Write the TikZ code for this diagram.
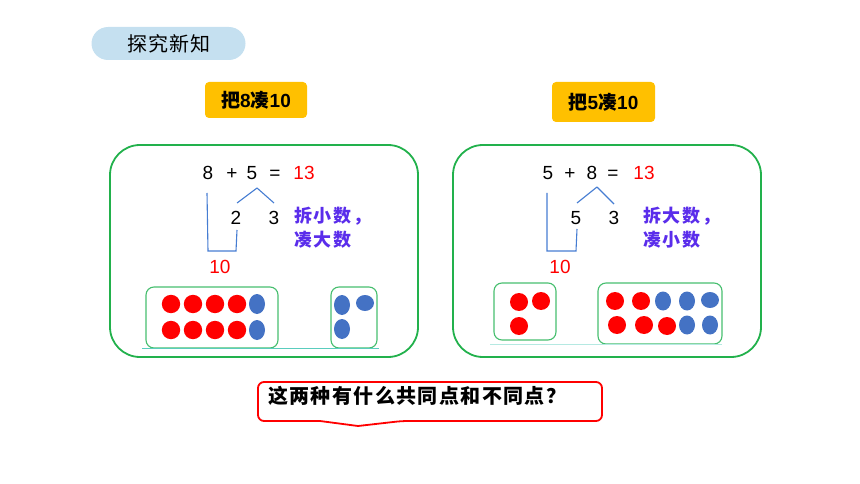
\documentclass[tikz,border=0pt]{standalone}
\usepackage{fontspec}
\setmainfont{Liberation Sans}
\newfontfamily\cjk{Noto Sans CJK SC}

\definecolor{pillblue}{RGB}{197,224,240}
\definecolor{tagorange}{RGB}{255,192,0}
\definecolor{panelgreen}{RGB}{34,177,76}
\definecolor{boxgreen}{RGB}{70,190,110}
\definecolor{dotblue}{RGB}{68,114,196}
\definecolor{linkblue}{RGB}{70,125,210}
\definecolor{hintpurple}{RGB}{90,45,235}
\definecolor{baseteal}{RGB}{90,205,190}

\begin{document}
\begin{tikzpicture}[x=1pt,y=-1pt,
  num/.style={font=\fontsize{19}{19}\selectfont, inner sep=0pt, anchor=base},
  rednum/.style={num, text=red},
  hint/.style={font={\cjk\bfseries\fontsize{18}{18}\selectfont\addfontfeature{LetterSpace=10}},
    text=hintpurple, inner sep=0pt, anchor=west},
  tag/.style={fill=tagorange, rounded corners=4pt, inner sep=0pt,
    font=\bfseries\fontsize{19}{19}\selectfont},
  panel/.style={draw=panelgreen, line width=1.8pt, rounded corners=30pt, inner sep=0pt},
  dotbox/.style={draw=boxgreen, line width=1.1pt, rounded corners=8pt, inner sep=0pt},
  link/.style={draw=linkblue, line width=1.1pt},
  reddot/.style={fill=red},
  bluedot/.style={fill=dotblue}]

  \useasboundingbox (0,0) rectangle (860,484);

  % title and tags
  \draw (168.5,43.5) node[fill=pillblue, rounded corners=16.5pt, minimum width=154pt,
    minimum height=33pt, font={\cjk\fontsize{20}{20}\selectfont\addfontfeature{LetterSpace=5}}]
    (title) {探究新知};
  \draw (256,100) node[tag, minimum width=102pt, minimum height=36pt] (ltag)
    {{\cjk 把}8{\cjk 凑}10};
  \draw (603.5,102) node[tag, minimum width=103pt, minimum height=40pt] (rtag)
    {{\cjk 把}5{\cjk 凑}10};

  % panels
  \draw (264,251) node[panel, minimum width=308pt, minimum height=212pt] (lpanel) {};
  \draw (607,251) node[panel, minimum width=308pt, minimum height=212pt] (rpanel) {};

  % left sum
  \draw (208,180) node[num] (l8) {8};
  \draw (232,180) node[num] (lplus) {+};
  \draw (252,180) node[num] (l5) {5};
  \draw (275,180) node[num] (leq) {=};
  \draw (304,180) node[rednum] (l13) {13};
  \draw (236,224) node[num] (l2) {2};
  \draw (274,224) node[num] (l3) {3};
  \draw (220,273.5) node[rednum] (l10) {10};
  \draw (294,216) node[hint] (lhinta) {拆小数，};
  \draw (294,240) node[hint] (lhintb) {凑大数};

  \coordinate (lapex) at (257,188);
  \coordinate (lsplit2) at (237,203);
  \coordinate (lsplit3) at (274,203);
  \coordinate (lbrtop) at (207,193);
  \coordinate (lbrleft) at (208,251);
  \coordinate (lbrright) at (236,251);
  \coordinate (lbrend) at (237,230);
  \draw[link] (lapex) -- (lsplit2);
  \draw[link] (lapex) -- (lsplit3);
  \draw[link] (lbrtop) -- (lbrleft) -- (lbrright) -- (lbrend);

  % right sum
  \draw (548,180) node[num] (r5) {5};
  \draw (570,180) node[num] (rplus) {+};
  \draw (592,180) node[num] (r8) {8};
  \draw (613,180) node[num] (req) {=};
  \draw (644,180) node[rednum] (r13) {13};
  \draw (576,224) node[num] (r5b) {5};
  \draw (614,224) node[num] (r3) {3};
  \draw (560,273.5) node[rednum] (r10) {10};
  \draw (643,216) node[hint] (rhinta) {拆大数，};
  \draw (643,240) node[hint] (rhintb) {凑小数};

  \coordinate (rapex) at (597,187);
  \coordinate (rsplit5) at (577,203);
  \coordinate (rsplit3) at (614,204);
  \coordinate (rbrtop) at (547,193);
  \coordinate (rbrleft) at (547,251);
  \coordinate (rbrright) at (576,251);
  \coordinate (rbrend) at (577,229);
  \draw[link] (rapex) -- (rsplit5);
  \draw[link] (rapex) -- (rsplit3);
  \draw[link] (rbrtop) -- (rbrleft) -- (rbrright) -- (rbrend);

  % counters, left
  \draw (212,317.5) node[dotbox, minimum width=132pt, minimum height=61pt] (lten) {};
  \draw (354,317.5) node[dotbox, minimum width=46pt, minimum height=61pt] (lrest) {};
  \draw[baseteal, line width=0.9pt] (142,348) -- (379,348);
  \foreach \x in {171,193,215,237}
    \foreach \y in {304,330}
      \fill[reddot] (\x,\y) circle (9.2pt);
  \fill[bluedot] (257,304) ellipse [x radius=8pt, y radius=10pt];
  \fill[bluedot] (257,330) ellipse [x radius=8pt, y radius=10pt];
  \fill[bluedot] (342,305) ellipse [x radius=8pt, y radius=10pt];
  \fill[bluedot] (365,303) ellipse [x radius=9pt, y radius=8pt];
  \fill[bluedot] (342,329) ellipse [x radius=8pt, y radius=10pt];

  % counters, right
  \draw (525,311.5) node[dotbox, minimum width=62pt, minimum height=57pt] (rrest) {};
  \draw (660,313.5) node[dotbox, minimum width=124pt, minimum height=61pt] (rten) {};
  \draw[baseteal!45, line width=0.8pt] (490,344) -- (722,344);
  \fill[reddot] (519,302) circle (9pt);
  \fill[reddot] (541,301) circle (9pt);
  \fill[reddot] (519,326) circle (9pt);
  \foreach \x/\y in {615/301, 641/301, 617/325, 644/325, 667/326}
    \fill[reddot] (\x,\y) circle (9pt);
  \foreach \x/\y in {663/301, 687/301, 687/325, 710/325}
    \fill[bluedot] (\x,\y) ellipse [x radius=8pt, y radius=9.5pt];
  \fill[bluedot] (710,300) ellipse [x radius=9pt, y radius=8pt];

  % question
  \draw[red, line width=1.8pt, rounded corners=6pt]
    (258,382) -- (602,382) -- (602,421) -- (402,421) [sharp corners] -- (358,426)
    -- (320,421) [rounded corners=6pt] -- (258,421) -- cycle;
  \draw (268,396) node[anchor=west, inner sep=0pt,
    font={\cjk\bfseries\fontsize{20}{20}\selectfont\addfontfeature{LetterSpace=7}}]
    (question) {这两种有什么共同点和不同点？};

\end{tikzpicture}
\end{document}
